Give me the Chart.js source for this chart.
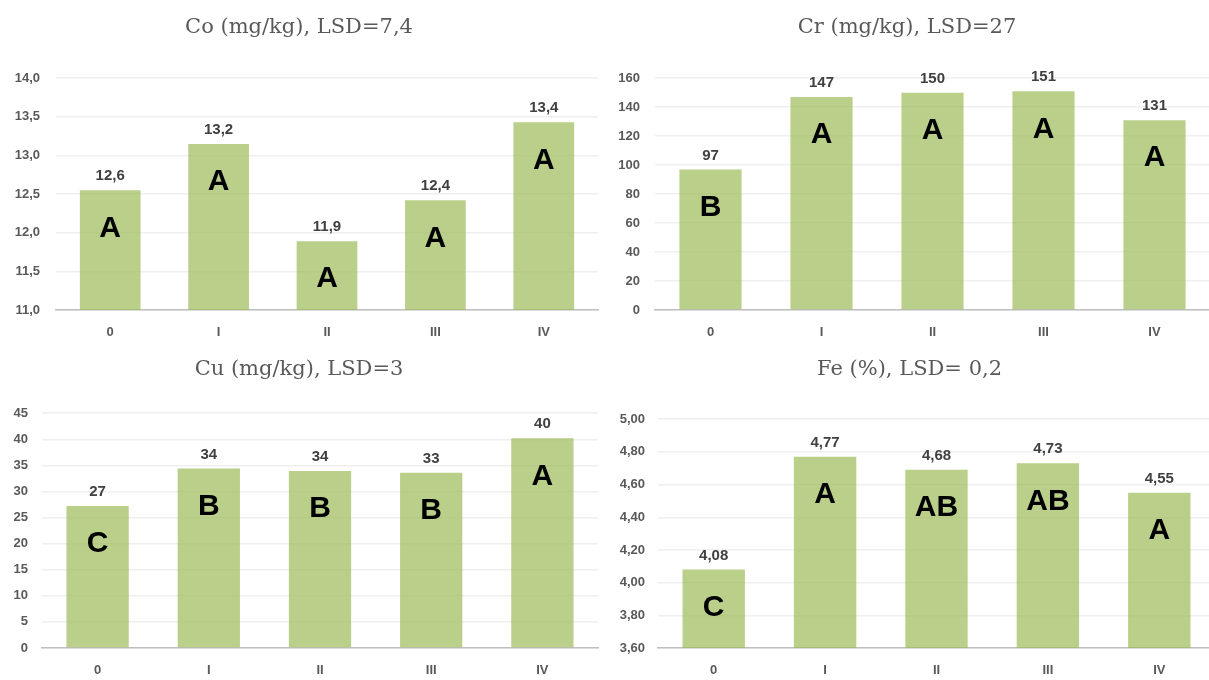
<!DOCTYPE html>
<html>
<head>
<meta charset="utf-8">
<script src="https://cdn.jsdelivr.net/npm/chart.js@4.4.1/dist/chart.umd.min.js"></script>
<style>
  html, body { margin: 0; padding: 0; background: #fff; overflow: hidden; }
  .panel { position: absolute; }
</style>
</head>
<body>
<div class="panel" style="left:0;top:0;width:604px;height:340px"><canvas id="chart-co"></canvas></div>
<div class="panel" style="left:604px;top:0;width:606px;height:340px"><canvas id="chart-cr"></canvas></div>
<div class="panel" style="left:0;top:340px;width:604px;height:340px"><canvas id="chart-cu"></canvas></div>
<div class="panel" style="left:604px;top:340px;width:611px;height:340px"><canvas id="chart-fe"></canvas></div>
<script>
// Treatment groups
const categories = ["0", "I", "II", "III", "IV"];

// Co (mg/kg)
const coValues = [12.55, 13.15, 11.89, 12.42, 13.43];
const coLabels = ["12,6", "13,2", "11,9", "12,4", "13,4"];
const coLetters = ["A", "A", "A", "A", "A"];

// Cr (mg/kg)
const crValues = [97, 147, 150, 151, 131];
const crLabels = ["97", "147", "150", "151", "131"];
const crLetters = ["B", "A", "A", "A", "A"];

// Cu (mg/kg)
const cuValues = [27.2, 34.4, 33.9, 33.6, 40.2];
const cuLabels = ["27", "34", "34", "33", "40"];
const cuLetters = ["C", "B", "B", "B", "A"];

// Fe (%)
const feValues = [4.08, 4.77, 4.69, 4.73, 4.55];
const feLabels = ["4,08", "4,77", "4,68", "4,73", "4,55"];
const feLetters = ["C", "A", "AB", "AB", "A"];

const BAR_COLOR = "rgba(155, 187, 89, 0.7)";
const SANS = "'Liberation Sans', Arial, sans-serif";

// value labels above the bar and group letters inside it
function barTextPlugin(labels, letters) {
  return {
    id: "barText",
    afterDatasetsDraw(chart) {
      const ctx = chart.ctx;
      const meta = chart.getDatasetMeta(0);
      meta.data.forEach((bar, i) => {
        ctx.save();
        ctx.textAlign = "center";
        ctx.textBaseline = "middle";
        ctx.fillStyle = "#404040";
        ctx.font = "bold 15px " + SANS;
        ctx.fillText(labels[i], bar.x, bar.y - 14);
        ctx.fillStyle = "#000";
        ctx.font = "bold 30px " + SANS;
        ctx.fillText(letters[i], bar.x, bar.y + 38);
        ctx.restore();
      });
    }
  };
}

function createChart(id, title, values, labels, letters, scale, box) {
  const ctx = document.getElementById(id);
  return new Chart(ctx, {
    type: "bar",
    data: {
      labels: categories,
      datasets: [{
        data: values,
        backgroundColor: BAR_COLOR,
        borderWidth: 0,
        barPercentage: 0.56,
        categoryPercentage: 1
      }]
    },
    options: {
      responsive: true,
      maintainAspectRatio: false,
      animation: false,
      layout: { padding: { left: 0, right: box.right, top: 0, bottom: 0 } },
      plugins: {
        legend: { display: false },
        tooltip: { enabled: false },
        title: {
          display: true,
          text: title,
          color: "#595959",
          font: { size: 21, family: "'DejaVu Serif', serif", weight: "normal", lineHeight: 1.2 },
          padding: { top: box.titleTop, bottom: box.titleBottom }
        }
      },
      scales: {
        x: {
          grid: { display: false, drawTicks: false },
          border: { display: true, color: "#bfbfbf", width: 1.5 },
          ticks: { color: "#595959", font: { size: 13, weight: "bold", family: SANS }, padding: 15, maxRotation: 0 },
          afterFit: (s) => { s.height = box.xHeight; }
        },
        y: {
          min: scale.min,
          max: scale.max,
          grid: { color: "#efefef", lineWidth: 1.5, drawTicks: false },
          border: { display: false },
          ticks: {
            stepSize: scale.step,
            color: "#595959",
            font: { size: 13, weight: "bold", family: SANS },
            padding: box.tickPad,
            callback: (v) => v.toFixed(scale.decimals).replace(".", ",")
          },
          afterFit: (s) => { s.width = box.yWidth; }
        }
      }
    },
    plugins: [barTextPlugin(labels, letters)]
  });
}

createChart("chart-co", "Co (mg/kg), LSD=7,4", coValues, coLabels, coLetters,
  { min: 11, max: 14, step: 0.5, decimals: 1 },
  { yWidth: 56, right: 6, titleTop: 15, titleBottom: 38, xHeight: 30, tickPad: 16 });
createChart("chart-cr", "Cr (mg/kg), LSD=27", crValues, crLabels, crLetters,
  { min: 0, max: 160, step: 20, decimals: 0 },
  { yWidth: 51, right: 0, titleTop: 15, titleBottom: 38, xHeight: 30, tickPad: 15 });
createChart("chart-cu", "Cu (mg/kg), LSD=3", cuValues, cuLabels, cuLetters,
  { min: 0, max: 45, step: 5, decimals: 0 },
  { yWidth: 42, right: 6, titleTop: 17, titleBottom: 31, xHeight: 32, tickPad: 14 });
createChart("chart-fe", "Fe (%), LSD= 0,2", feValues, feLabels, feLetters,
  { min: 3.6, max: 5.0, step: 0.2, decimals: 2 },
  { yWidth: 54, right: 0, titleTop: 17, titleBottom: 37, xHeight: 32, tickPad: 13 });
</script>
</body>
</html>
